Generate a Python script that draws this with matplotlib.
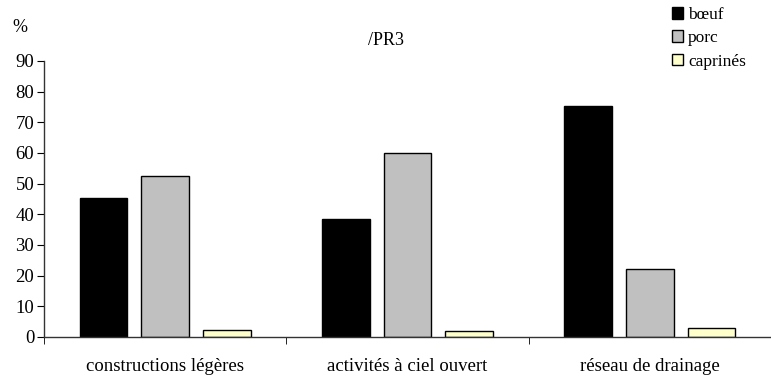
import numpy as np
import matplotlib.pyplot as plt
from matplotlib.ticker import FixedLocator

plt.rcParams['font.family'] = ['Liberation Serif', 'DejaVu Serif']

# données
categories = ['constructions légères', 'activités à ciel ouvert', 'réseau de drainage']
series = ['bœuf', 'porc', 'caprinés']
boeuf = [45.3, 38.3, 75.2]
porc = [52.5, 60.0, 22.0]
caprines = [2.2, 1.9, 2.9]
colors = ['#000000', '#c0c0c0', '#ffffcc']

fig = plt.figure(figsize=(7.71, 3.76), dpi=100)
ax = fig.add_axes([0.057, 0.104, 0.943, 0.734])

x = np.arange(len(categories))
width = 0.197
step = 0.254
for i, (vals, name) in enumerate(zip([boeuf, porc, caprines], series)):
    ax.bar(x + (i - 1) * step, vals, width, color=colors[i],
           edgecolor='black', linewidth=1.0, label=name)

ax.set_xlim(-0.5, 2.5)
ax.set_ylim(0, 90)
ax.set_yticks(np.arange(0, 100, 10))
ax.tick_params(axis='y', labelsize=13.5, length=5, direction='out', pad=2)

ax.set_xticks(x)
ax.set_xticklabels(categories, fontsize=13.5)
ax.xaxis.set_minor_locator(FixedLocator([-0.5, 0.5, 1.5]))
ax.tick_params(axis='x', which='major', length=0, pad=15)
ax.tick_params(axis='x', which='minor', length=5, direction='out')

ax.spines['top'].set_visible(False)
ax.spines['right'].set_visible(False)
for s in ['left', 'bottom']:
    ax.spines[s].set_linewidth(1.0)
    ax.spines[s].set_color('#333333')

fig.text(0.016, 0.928, '%', fontsize=13, va='center')
fig.text(0.5, 0.893, '/PR3', fontsize=13, ha='center', va='center')

ax.legend(loc='upper left', bbox_to_anchor=(0.862, 1.0), bbox_transform=fig.transFigure,
          frameon=False, fontsize=12.5, handlelength=0.65, handleheight=0.65,
          handletextpad=0.3, labelspacing=0.42, borderaxespad=0.0)

fig.savefig('out.png', dpi=100)
